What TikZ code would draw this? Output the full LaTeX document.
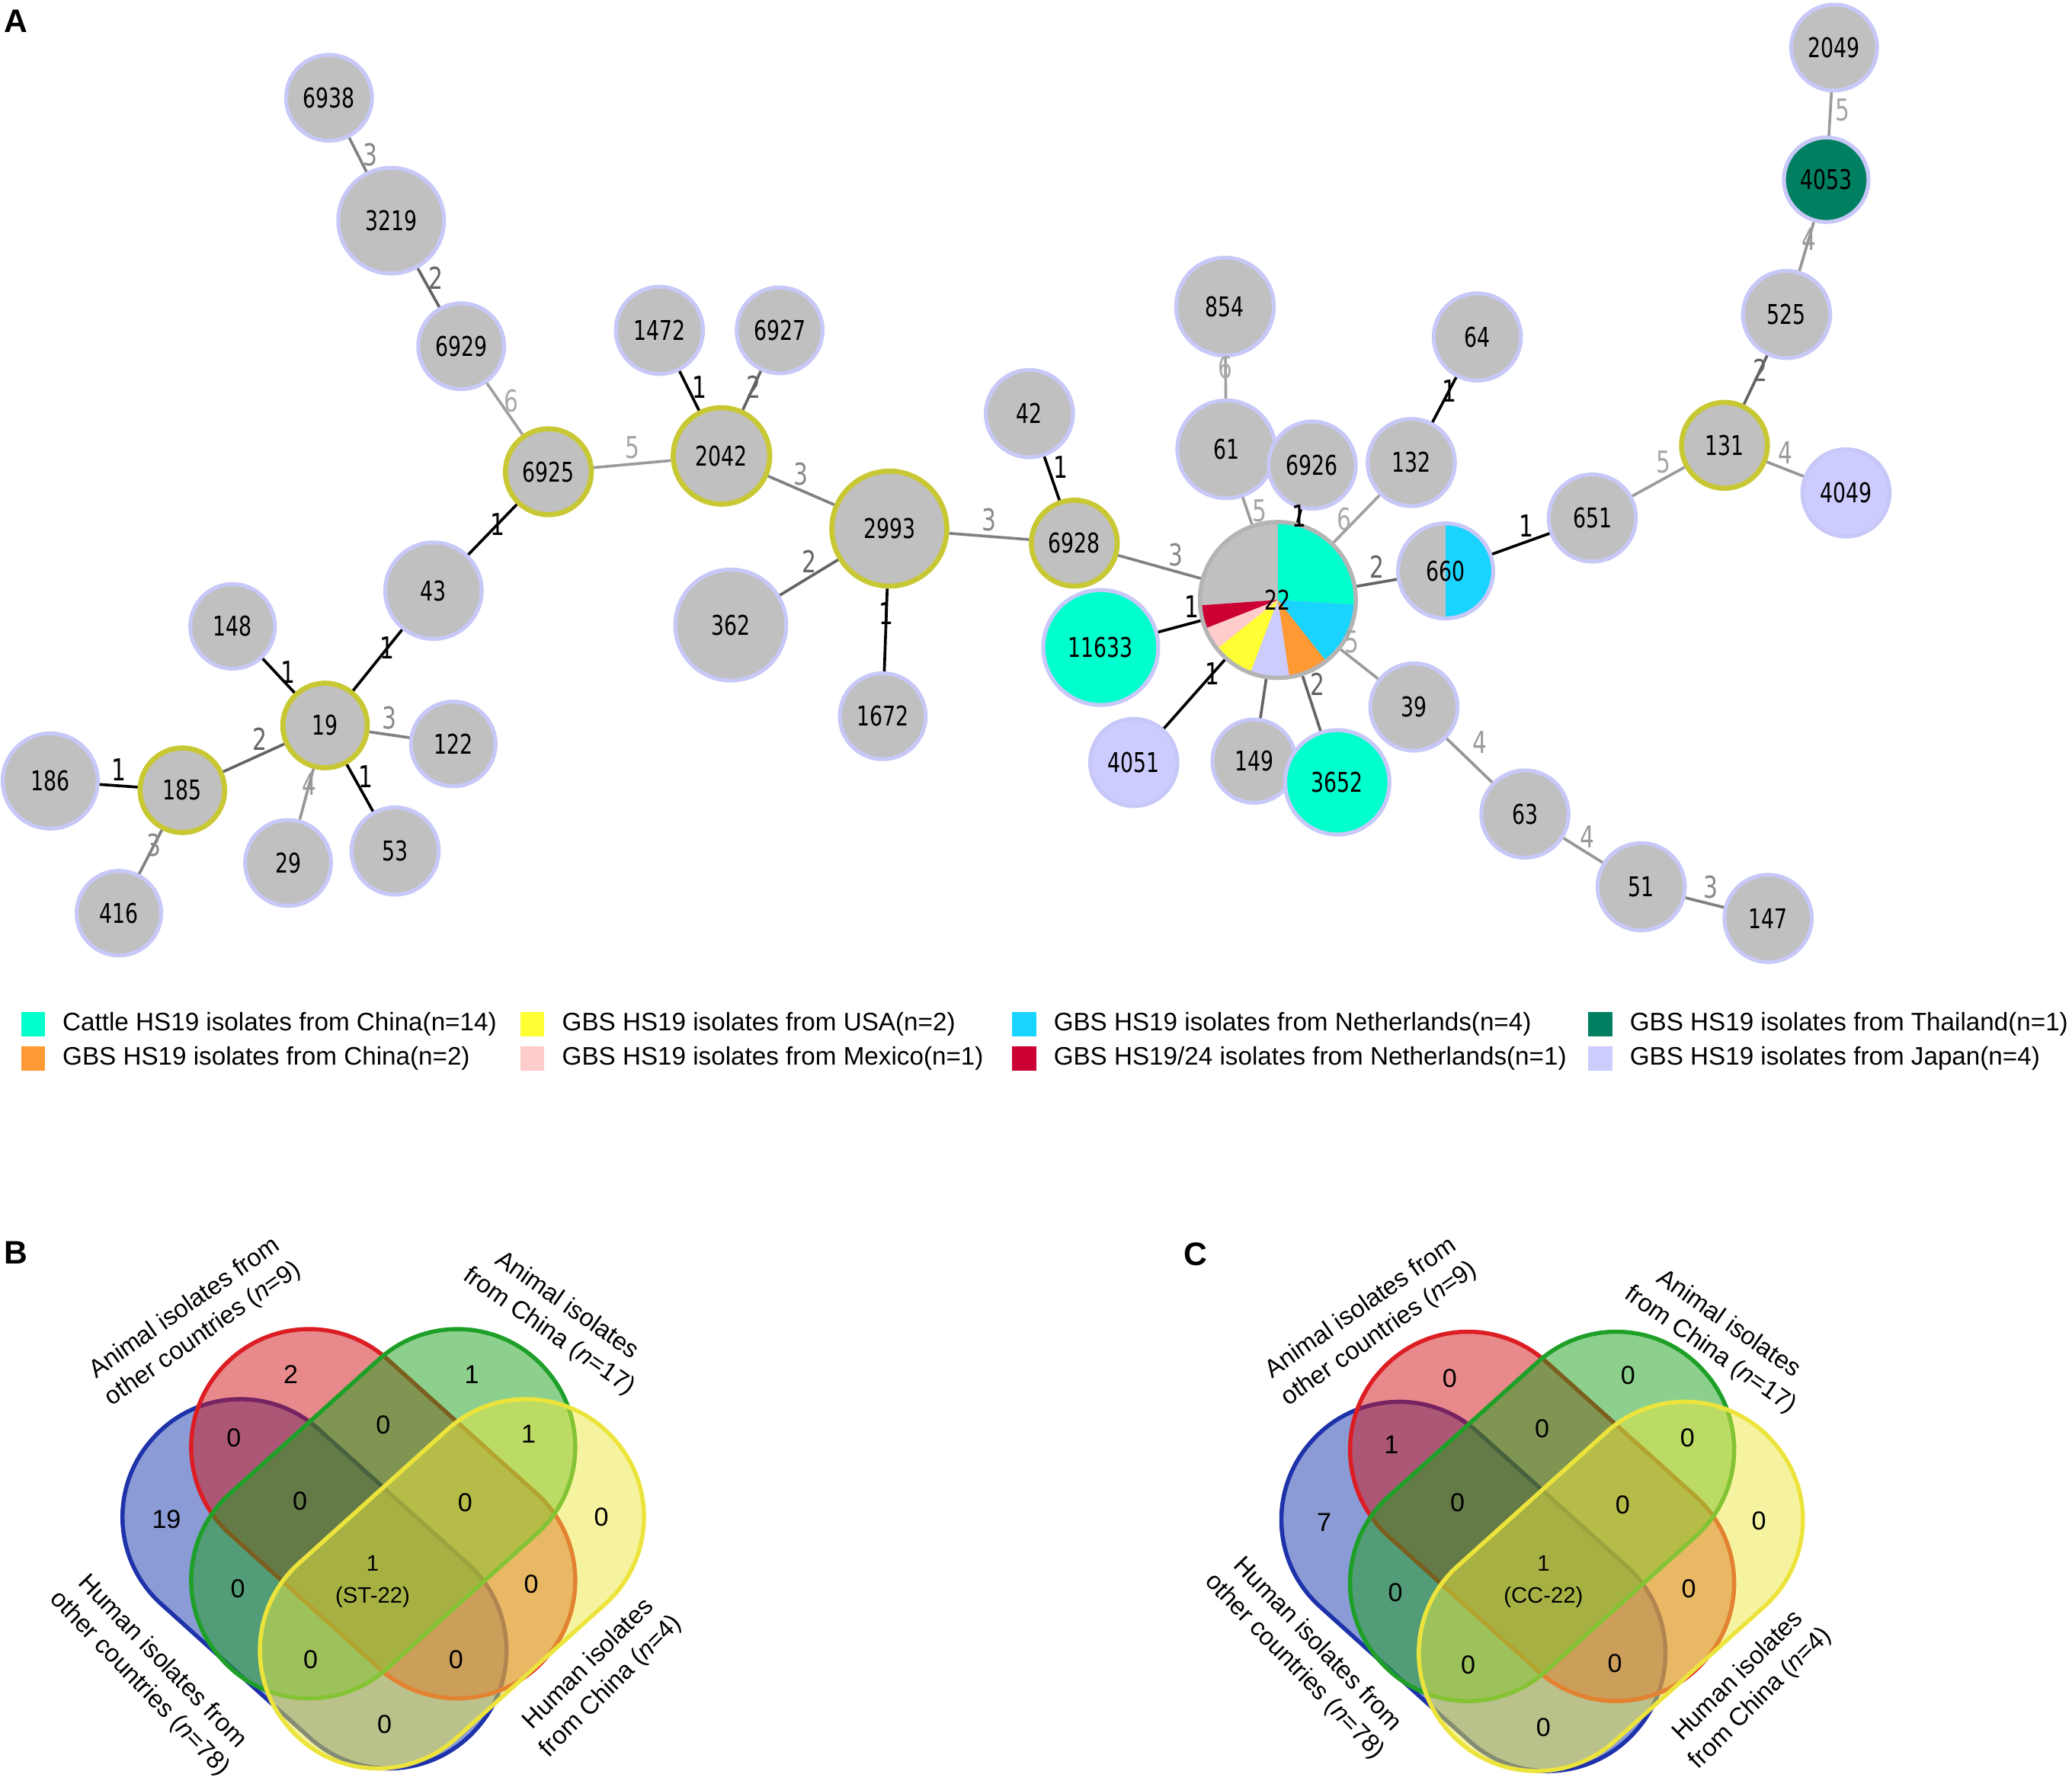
\documentclass[tikz,border=0pt]{standalone}
\usepackage{fontspec}
\setmainfont{Liberation Sans}
\newfontfamily\netfont{DejaVu Sans}[FakeStretch=0.75]
\usetikzlibrary{positioning}

% sequence type colours
\definecolor{stgray}{RGB}{192,192,192}
\definecolor{ringlav}{RGB}{200,200,248}
\definecolor{ringol}{RGB}{200,200,52}
\definecolor{ring22}{RGB}{180,180,180}
\definecolor{ctl}{RGB}{0,255,204}
\definecolor{nld}{RGB}{25,212,255}
\definecolor{chn}{RGB}{255,153,51}
\definecolor{usa}{RGB}{255,255,51}
\definecolor{mex}{RGB}{255,204,204}
\definecolor{nld24}{RGB}{204,0,51}
\definecolor{tha}{RGB}{0,128,96}
\definecolor{jpn}{RGB}{204,204,255}
% link colours
\definecolor{ec1}{RGB}{0,0,0}
\definecolor{ec2}{RGB}{100,100,100}
\definecolor{ec3}{RGB}{128,128,128}
\definecolor{ec4}{RGB}{150,150,150}
\definecolor{ec5}{RGB}{155,155,155}
\definecolor{ec6}{RGB}{160,160,160}
\definecolor{lc1}{RGB}{0,0,0}
\definecolor{lc2}{RGB}{100,100,100}
\definecolor{lc3}{RGB}{136,136,136}
\definecolor{lc4}{RGB}{153,153,153}
\definecolor{lc5}{RGB}{166,166,166}
\definecolor{lc6}{RGB}{170,170,170}
% venn colours
\definecolor{vb}{RGB}{30,50,170}
\definecolor{vr}{RGB}{220,30,36}
\definecolor{vg}{RGB}{30,160,40}
\definecolor{vy}{RGB}{236,228,60}
\definecolor{fb}{RGB}{21,55,173}
\definecolor{fr}{RGB}{209,21,25}
\definecolor{fg}{RGB}{27,161,27}
\definecolor{fy}{RGB}{235,231,63}

\tikzset{
  st/.style={circle, draw=ringlav, fill=stgray, line width=0.85pt, inner sep=0pt,
             font=\netfont\fontsize{5.85}{6}\selectfont},
  hub/.style={st, draw=ringol, line width=1.1pt},
  lk/.style={line width=0.6pt},
  wl/.style={inner sep=0.8pt, font=\netfont\fontsize{6.5}{7}\selectfont},
  swatch/.style={minimum size=0.18cm, inner sep=0pt},
  swtxt/.style={inner sep=0pt, font=\fontsize{5.45}{6}\selectfont},
  plab/.style={font=\bfseries\fontsize{7}{8}\selectfont},
  vset/.style={line width=0.9pt, fill opacity=0.5, rounded corners=8.85mm},
  vnum/.style={font=\fontsize{5.6}{7}\selectfont},
  vlab/.style={align=center, font=\fontsize{5.4}{6.8}\selectfont}
}

\begin{document}
\begin{tikzpicture}[x=0.1mm, y=-0.1mm]
\useasboundingbox (0,0) rectangle (1568,1350);

% panel letters
\node[plab] (pa) at (12,16) {A};
\node[plab] (pb) at (12,948) {B};
\node[plab] (pc) at (905,949) {C};

% minimum spanning tree
\foreach \s/\x/\y/\dm in {6938/249/74/0.65, 3219/296/167/0.80, 6929/349/262/0.65,
    1472/499/250/0.66, 6927/590/250/0.65, 362/553/473/0.84, 1672/668/542/0.65,
    43/328/447/0.73, 148/176/474/0.64, 122/343/563/0.64, 186/38/591/0.72,
    416/90/691/0.64, 29/218/653/0.65, 53/299/644/0.66, 42/779/313/0.66,
    149/949/576/0.63, 854/927/232/0.74, 61/928/340/0.74, 6926/993/352/0.66,
    132/1068/350/0.66, 64/1118/255/0.66, 39/1070/535/0.66, 63/1154/616/0.66,
    51/1242/671/0.66, 147/1338/695/0.66, 651/1205/392/0.66, 525/1352/238/0.66,
    2049/1388/36/0.65}
  \node[st, minimum size=\dm cm] (n\s) at (\x,\y) {\s};
\foreach \s/\x/\y/\dm in {6925/415/357/0.65, 2042/546/345/0.73, 2993/673/400/0.87,
    19/246/549/0.64, 185/138/598/0.64, 6928/813/411/0.65, 131/1305/337/0.65}
  \node[hub, minimum size=\dm cm] (n\s) at (\x,\y) {\s};

\node[st, fill=ctl, minimum size=0.87cm] (n11633) at (833,490) {11633};
\node[st, fill=ctl, minimum size=0.79cm] (n3652) at (1012,592) {3652};
\node[st, fill=jpn, minimum size=0.66cm] (n4051) at (858,577) {4051};
\node[st, fill=jpn, minimum size=0.66cm] (n4049) at (1397,373) {4049};
\node[st, fill=tha, minimum size=0.64cm] (n4053) at (1382,136) {4053};
\node[st, minimum size=0.72cm,
  path picture={\fill[nld] (path picture bounding box.south) rectangle (path picture bounding box.north east);}]
  (n660) at (1094,432) {660};
\node[st, draw=ring22, line width=0.9pt, minimum size=1.18cm,
  path picture={\foreach \col/\a/\b in {ctl/-3.5/90, nld/-51.8/-3.5, chn/-81.5/-51.8,
      jpn/-110.7/-81.5, usa/-141.3/-110.7, mex/-158.6/-141.3, nld24/-176/-158.6}
    \fill[fill=\col] (path picture bounding box.center) -- +(\a:1cm)
      arc[start angle=\a, end angle=\b, radius=1cm] -- cycle;}]
  (n22) at (967,454) {22};

% links, labelled with allele differences
\foreach \a/\b/\w/\q/\p in {6938/3219/3/0.5/west, 3219/6929/2/0.25/west,
    6929/6925/6/0.35/west, 6925/2042/5/0.5/south, 6925/43/1/0.4/center,
    2042/1472/1/0.6/west, 2042/6927/2/0.6/center, 2042/2993/3/0.5/south,
    2993/362/2/0.5/south, 2993/1672/1/0.3/center, 2993/6928/3/0.5/south,
    6928/42/1/0.75/west, 6928/22/3/0.7/south, 43/19/1/0.3/center,
    19/148/1/0.6/west, 19/122/3/0.5/south, 19/53/1/0.25/west,
    19/29/4/0.3/center, 19/185/2/0.4/south, 185/186/1/0.5/south,
    185/416/3/0.35/center, 22/11633/1/0.2/south, 22/4051/1/0.2/center,
    22/3652/2/0.15/west, 22/39/5/0.3/south, 22/660/2/0.5/south,
    22/132/6/0.5/east, 22/6926/1/0.5/center, 22/61/5/0.5/west,
    61/854/6/0.75/center, 132/64/1/0.7/center, 660/651/1/0.6/south,
    651/131/5/0.6/south, 131/525/2/0.7/center, 131/4049/4/0.5/south,
    525/4053/4/0.65/center, 4053/2049/5/0.6/west, 39/63/4/0.45/south west,
    63/51/4/0.6/south, 51/147/3/0.65/south}
  \draw[lk, draw=ec\w] (n\a) -- node[wl, pos=\q, anchor=\p, text=lc\w] {\w} (n\b);
\draw[lk, draw=ec2] (n22) -- (n149);

% legend
\foreach \col/\x/\y/\txt in {ctl/25/775/Cattle HS19 isolates from China(n=14),
    chn/25/801/GBS HS19 isolates from China(n=2),
    usa/403/775/GBS HS19 isolates from USA(n=2),
    mex/403/801/GBS HS19 isolates from Mexico(n=1),
    nld/775/775/GBS HS19 isolates from Netherlands(n=4),
    nld24/775/801/{GBS HS19/24 isolates from Netherlands(n=1)},
    tha/1211/775/GBS HS19 isolates from Thailand(n=1),
    jpn/1211/801/GBS HS19 isolates from Japan(n=4)}
{
  \node[swatch, fill=\col] (k\col) at (\x,\y) {};
  \node[swtxt, right=1.2mm of k\col] (t\col) {\txt};
}

% venn diagrams B and C
\foreach \dx/\dy in {0/0, 877/2}{
  \begin{scope}[shift={(\dx,\dy)}]
    \filldraw[vset, fill=fb, draw=vb, rotate around={-42:(238,1198.5)}] (73.5,1109.5) rectangle (402.5,1287.5);
    \filldraw[vset, fill=fr, draw=vr, rotate around={-42:(290,1145.5)}] (125.5,1056.5) rectangle (454.5,1234.5);
    \filldraw[vset, fill=fg, draw=vg, rotate around={42:(290,1145.5)}] (125.5,1056.5) rectangle (454.5,1234.5);
    \filldraw[vset, fill=fy, draw=vy, rotate around={42:(342,1198.5)}] (177.5,1109.5) rectangle (506.5,1287.5);
  \end{scope}
}

\foreach \v/\x/\y [count=\i] in {2/220/1040, 1/357/1040, 0/177/1088, 0/290/1078,
    1/400/1085, 19/126/1150, 0/227/1136, 0/352/1137, 0/455/1148, 0/180/1202,
    0/402/1199, 0/235/1256, 0/345/1256, 0/291/1305}
  \node[vnum] (b\i) at (\x,\y) {\v};
\node[vnum, align=center, font=\fontsize{4.8}{6.8}\selectfont] (bst) at (282,1197) {1\\(ST-22)};

\foreach \v/\x/\y [count=\i] in {0/1097/1043, 0/1232/1041, 1/1053/1093, 0/1167/1081,
    0/1277/1088, 7/1002/1152, 0/1103/1137, 0/1228/1139, 0/1331/1151, 0/1056/1205,
    0/1278/1202, 0/1111/1260, 0/1222/1259, 0/1168/1307}
  \node[vnum] (c\i) at (\x,\y) {\v};
\node[vnum, align=center, font=\fontsize{4.8}{6.8}\selectfont] (cst) at (1168,1197) {1\\(CC-22)};

\node[vlab, rotate=35] (bl1) at (147,1000) {Animal isolates from\\other countries (\textit{n}=9)};
\node[vlab, rotate=-35] (bl2) at (422,998) {Animal isolates\\from China (\textit{n}=17)};
\node[vlab, rotate=-46] (bl3) at (114,1266) {Human isolates from\\other countries (\textit{n}=78)};
\node[vlab, rotate=45] (bl4) at (454,1268) {Human isolates\\from China (\textit{n}=4)};

\node[vlab, rotate=35] (cl1) at (1037,1000) {Animal isolates from\\other countries (\textit{n}=9)};
\node[vlab, rotate=-35] (cl2) at (1301,1012) {Animal isolates\\from China (\textit{n}=17)};
\node[vlab, rotate=-46] (cl3) at (988,1253) {Human isolates from\\other countries (\textit{n}=78)};
\node[vlab, rotate=45] (cl4) at (1324,1277) {Human isolates\\from China (\textit{n}=4)};

\end{tikzpicture}
\end{document}
